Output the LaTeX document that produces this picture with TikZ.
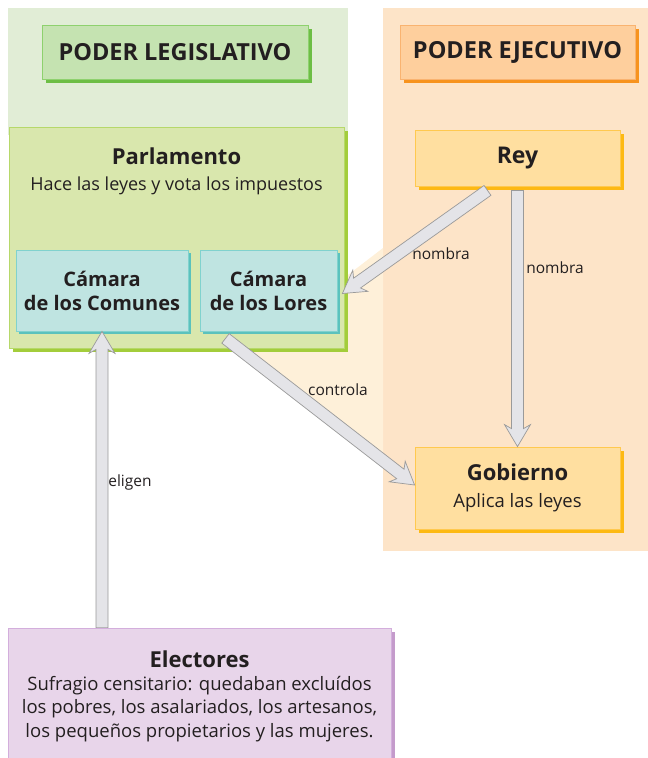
\documentclass[tikz,border=0pt]{standalone}
\usepackage{fontspec}
\setmainfont{Open Sans}
\usepackage{xcolor}
\usetikzlibrary{calc,shadows}

\definecolor{tinta}{HTML}{231F20}
\definecolor{fondoleg}{HTML}{E1EDD6}
\definecolor{fondoeje}{HTML}{FDE4C8}
\definecolor{crema}{HTML}{FEF0D9}
\definecolor{verdetit}{HTML}{C5E3B1}
\definecolor{verdetitb}{HTML}{8ED16E}
\definecolor{verdetits}{HTML}{6DBE45}
\definecolor{verdepar}{HTML}{D9E7AD}
\definecolor{verdeparb}{HTML}{B6D86A}
\definecolor{verdepars}{HTML}{A3CD3B}
\definecolor{turq}{HTML}{BFE4E1}
\definecolor{turqb}{HTML}{80D2CE}
\definecolor{turqs}{HTML}{5BC2BD}
\definecolor{naranjatit}{HTML}{FECF9D}
\definecolor{naranjatitb}{HTML}{F9B370}
\definecolor{naranjatits}{HTML}{F7931E}
\definecolor{amarillo}{HTML}{FFDFA0}
\definecolor{amarillob}{HTML}{FFC94F}
\definecolor{amarillos}{HTML}{FDB913}
\definecolor{lila}{HTML}{E8D5EA}
\definecolor{lilab}{HTML}{D3AEDC}
\definecolor{lilas}{HTML}{C49BCB}
\definecolor{flechaf}{HTML}{E4E4E8}
\definecolor{flechab}{HTML}{9A9A9A}

% flecha gruesa hueca: #1 origen, #2 punta
\newcommand{\fleca}[2]{%
  \coordinate (fa) at ($(#2)!18pt!(#1)$);
  \coordinate (fb) at ($(#2)!22pt!(#1)$);
  \draw[flecha] ($(#1)!6pt!90:(#2)$) -- ($(fa)!6pt!90:(#2)$) -- ($(fb)!13pt!90:(#2)$)
    -- (#2) -- ($(fb)!13pt!-90:(#2)$) -- ($(fa)!6pt!-90:(#2)$) -- ($(#1)!6pt!-90:(#2)$) -- cycle;
}

\begin{document}
\begin{tikzpicture}[x=1pt,y=-1pt]
\tikzstyle{every node}+=[inner sep=0pt, text=tinta]
\tikzstyle{caja}=[draw, line width=0.8pt, align=center]
\tikzstyle{titleg}=[caja, fill=verdetit, draw=verdetitb, font=\bfseries\fontsize{23.5}{28}\selectfont,
  drop shadow={shadow xshift=4pt, shadow yshift=-4pt, fill=verdetits, opacity=1}]
\tikzstyle{titeje}=[caja, fill=naranjatit, draw=naranjatitb, font=\bfseries\fontsize{23.5}{28}\selectfont,
  drop shadow={shadow xshift=4pt, shadow yshift=-4pt, fill=naranjatits, opacity=1}]
\tikzstyle{parl}=[caja, fill=verdepar, draw=verdeparb,
  drop shadow={shadow xshift=4pt, shadow yshift=-4pt, fill=verdepars, opacity=1}]
\tikzstyle{camara}=[caja, fill=turq, draw=turqb, font=\bfseries\fontsize{20}{24}\selectfont,
  drop shadow={shadow xshift=3pt, shadow yshift=-3pt, fill=turqs, opacity=1}]
\tikzstyle{ejec}=[caja, fill=amarillo, draw=amarillob, font=\fontsize{18.5}{27}\selectfont,
  drop shadow={shadow xshift=4pt, shadow yshift=-4pt, fill=amarillos, opacity=1}]
\tikzstyle{elec}=[caja, fill=lila, draw=lilab, font=\fontsize{18.5}{23.3}\selectfont,
  drop shadow={shadow xshift=4pt, shadow yshift=-4pt, fill=lilas, opacity=1}]
\tikzstyle{flecha}=[fill=flechaf, draw=flechab, line width=0.7pt, line join=miter]
\tikzstyle{etiq}=[font=\fontsize{15.5}{18}\selectfont]

\useasboundingbox (0,0) rectangle (648,758);

% fondos
\fill[fondoleg] (8,8) rectangle (348,135);
\fill[fondoeje] (383,8) rectangle (648,551);
\fill[crema] (220,338) -- (383,466) -- (383,248) -- (344,278) -- (344,338) -- cycle;

% poder legislativo
\node[titleg, minimum width=266pt, minimum height=54pt] (tleg) at (175,52) {PODER LEGISLATIVO};
\node[parl, minimum width=335pt, minimum height=221pt] (parlamento) at (176.5,237.5) {};
\node[anchor=north, align=center, font=\fontsize{18}{26}\selectfont] (parltxt) at ([yshift=-21pt]parlamento.north)
  {{\bfseries\fontsize{22}{26}\selectfont Parlamento}\\Hace las leyes y vota los impuestos};
\node[camara, minimum width=172pt, minimum height=81pt] (comunes) at (102,290.5) {Cámara\\de los Comunes};
\node[camara, minimum width=137pt, minimum height=81pt] (lores) at (268.5,290.5) {Cámara\\de los Lores};

% poder ejecutivo
\node[titeje, minimum width=235pt, minimum height=54pt] (teje) at (517.5,52) {PODER EJECUTIVO};
\node[ejec, minimum width=205pt, minimum height=56pt, font=\bfseries\fontsize{23}{26}\selectfont] (rey) at (517.5,158) {Rey};
\node[ejec, minimum width=205pt, minimum height=82pt] (gobierno) at (517.5,488)
  {{\bfseries\fontsize{22}{26}\selectfont Gobierno}\\Aplica las leyes};

% electores
\node[elec, minimum width=383pt, minimum height=136pt] (electores) at (199.5,696)
  {{\bfseries\fontsize{22}{26}\selectfont Electores}\\Sufragio censitario: quedaban excluídos\\
   los pobres, los asalariados, los artesanos,\\los pequeños propietarios y las mujeres.};

% flechas
\coordinate (reyI) at ([xshift=-30pt,yshift=-4pt]rey.south);
\coordinate (loresE) at ([xshift=5pt,yshift=-3pt]lores.east);
\coordinate (reyC) at ([yshift=-4pt]rey.south);
\coordinate (loresS) at ([xshift=-43pt,yshift=-7pt]lores.south);
\coordinate (gobO) at ([yshift=3pt]gobierno.west);
\coordinate (elecN) at (comunes.south |- electores.north);
\fleca{reyI}{loresE}
\fleca{reyC}{gobierno.north}
\fleca{loresS}{gobO}
\fleca{elecN}{comunes.south}

% etiquetas
\node[etiq] (nombra1) at (441,254) {nombra};
\node[etiq] (nombra2) at (555,268) {nombra};
\node[etiq] (controla) at (338,390) {controla};
\node[etiq] (eligen) at (130,482) {eligen};
\end{tikzpicture}
\end{document}
